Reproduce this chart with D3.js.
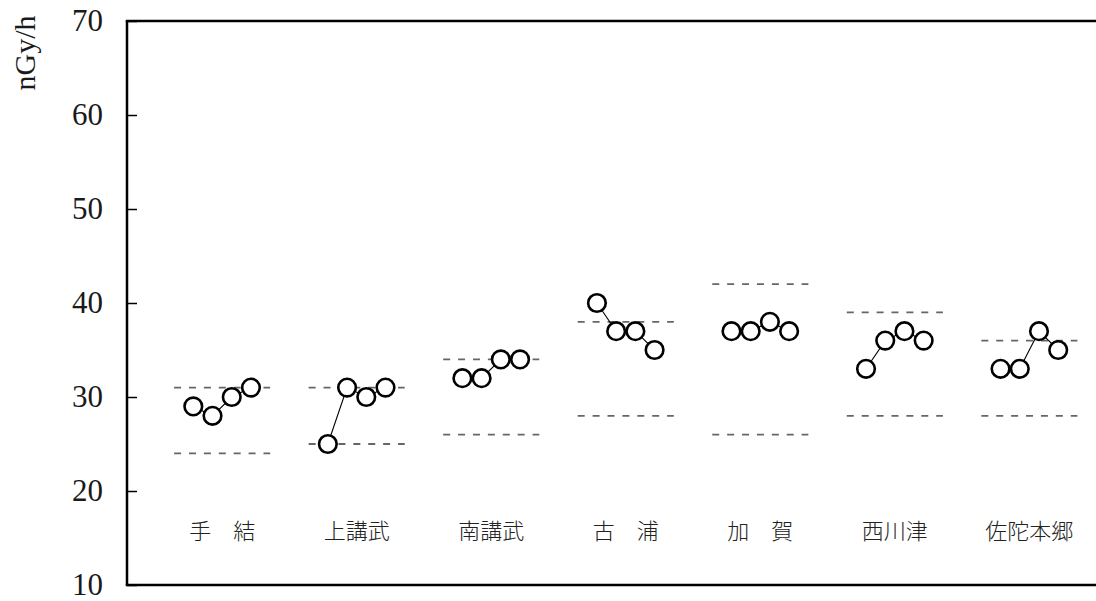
<!DOCTYPE html>
<html>
<head>
<meta charset="utf-8">
<script src="https://cdn.jsdelivr.net/npm/d3@7"></script>
<style>
  html, body { margin: 0; padding: 0; background: #fff; }
  svg { display: block; }
</style>
</head>
<body>
<svg id="chart" width="1096" height="601"></svg>
<script>
// Sites surveyed (full-width spaces kept for two-character names)
const sites = ["手\u3000結", "上講武", "南講武", "古\u3000浦", "加\u3000賀", "西川津", "佐陀本郷"];

// Dose rate in nGy/h, four successive surveys per site
const survey1 = [29, 25, 32, 40, 37, 33, 33];
const survey2 = [28, 31, 32, 37, 37, 36, 33];
const survey3 = [30, 30, 34, 37, 38, 37, 37];
const survey4 = [31, 31, 34, 35, 37, 36, 35];

// Past range of each site (upper and lower dashed lines)
const rangeMax = [31, 31, 34, 38, 42, 39, 36];
const rangeMin = [24, 25, 26, 28, 26, 28, 28];

const yTicks = [10, 20, 30, 40, 50, 60, 70];
const yUnit = "nGy/h";

const surveys = [survey1, survey2, survey3, survey4];

const svg = d3.select("#chart");
const plotLeft = 127, plotTop = 21, plotBottom = 585;
const unit = 19.22;            // horizontal step between neighbouring surveys
const groupStep = 7;           // slots per site (4 points + gap)
const plotRight = plotLeft + 56 * unit;

const x = d3.scaleLinear().domain([-3.45, 52.55]).range([plotLeft, plotRight]);
const y = d3.scaleLinear().domain([10, 70]).range([plotBottom, plotTop]);

const serif = "'Liberation Serif', 'DejaVu Serif', serif";
const cjk = "'Noto Sans CJK JP', sans-serif";

// Y axis with inward ticks
const yAxis = d3.axisLeft(y)
  .tickValues(yTicks)
  .tickFormat(d3.format("d"))
  .tickSizeInner(-10)
  .tickSizeOuter(0)
  .tickPadding(24);

const gy = svg.append("g").attr("transform", `translate(${plotLeft},0)`).call(yAxis);
gy.select(".domain").remove();
gy.selectAll(".tick line").attr("stroke", "#000").attr("stroke-width", 1.5);
gy.selectAll(".tick text")
  .attr("fill", "#1a1a1a")
  .style("font-family", serif)
  .style("font-weight", 400)
  .style("font-size", "31px");

// Unit label
svg.append("text")
  .attr("transform", `translate(35,53) rotate(-90)`)
  .attr("text-anchor", "middle")
  .style("font-family", serif)
  .style("font-weight", 400)
  .style("font-size", "30px")
  .attr("fill", "#1a1a1a")
  .text(yUnit);

// Plot frame (right side runs past the visible area)
const frame = svg.append("g").attr("stroke", "#000").attr("stroke-width", 2.5).attr("fill", "none");
frame.append("line").attr("x1", plotLeft).attr("x2", plotLeft).attr("y1", plotTop).attr("y2", plotBottom);
frame.append("line").attr("x1", plotLeft - 1.25).attr("x2", plotRight).attr("y1", plotTop).attr("y2", plotTop);
frame.append("line").attr("x1", plotLeft - 1.25).attr("x2", plotRight).attr("y1", plotBottom).attr("y2", plotBottom);

const sx = (g, j) => x(g * groupStep + j);

// Dashed range lines
const ranges = svg.append("g")
  .attr("stroke", "#666")
  .attr("stroke-width", 1.8)
  .attr("stroke-dasharray", "7,7.9");
sites.forEach((s, g) => {
  [rangeMax[g], rangeMin[g]].forEach(v => {
    ranges.append("line")
      .attr("x1", sx(g, -1)).attr("x2", sx(g, 4))
      .attr("y1", y(v)).attr("y2", y(v));
  });
});

// Connecting lines per site
const line = d3.line().x(d => d[0]).y(d => d[1]);
sites.forEach((s, g) => {
  const pts = surveys.map((arr, j) => [sx(g, j), y(arr[g])]);
  svg.append("path")
    .attr("d", line(pts))
    .attr("fill", "none")
    .attr("stroke", "#000")
    .attr("stroke-width", 1.1);
});

// Survey markers
sites.forEach((s, g) => {
  svg.append("g").selectAll("circle")
    .data(surveys.map(arr => arr[g]))
    .join("circle")
    .attr("cx", (d, j) => sx(g, j))
    .attr("cy", d => y(d))
    .attr("r", 8.8)
    .attr("fill", "#fff")
    .attr("stroke", "#000")
    .attr("stroke-width", 2.6);
});

// Site names inside the plot
svg.append("g").selectAll("text")
  .data(sites)
  .join("text")
  .attr("x", (d, g) => sx(g, 1.5))
  .attr("y", 531)
  .attr("dy", "0.35em")
  .attr("text-anchor", "middle")
  .style("font-family", cjk)
  .style("font-weight", 300)
  .style("font-size", "22px")
  .attr("fill", "#222")
  .text(d => d);
</script>
</body>
</html>
